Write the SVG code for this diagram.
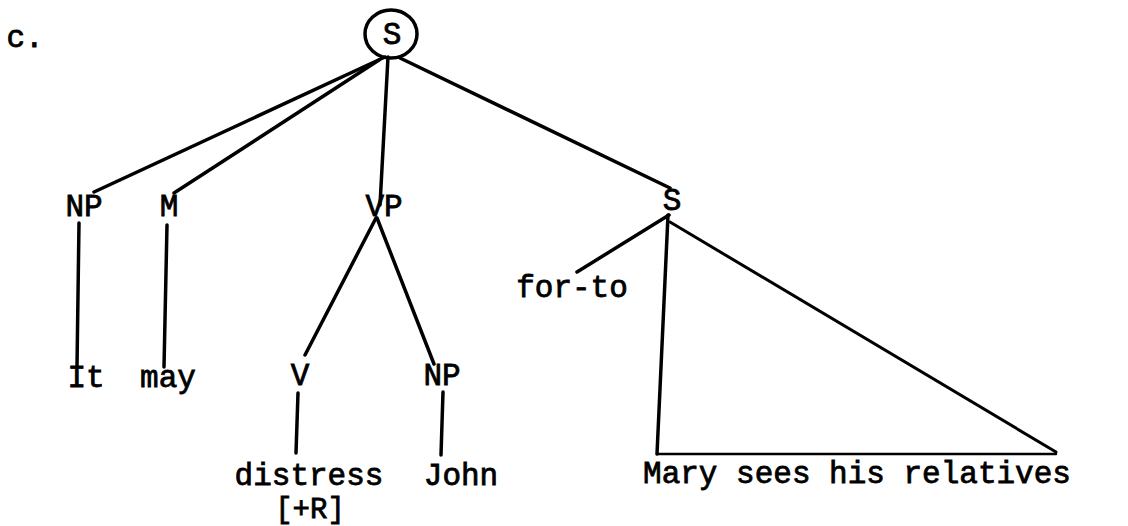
<svg xmlns="http://www.w3.org/2000/svg" width="1128" height="526" viewBox="0 0 1128 526">
<style>
text{font-family:"Liberation Mono","Courier New",monospace;font-size:31px;fill:#000;stroke:#000;stroke-width:0.8;text-anchor:middle}
.e line{stroke:#000;stroke-width:3.5;stroke-linecap:round;fill:none}
</style>
<rect width="1128" height="526" fill="#fff"/>
<g id="label"><text x="25" y="47">c.</text></g>
<g class="e" id="connectors">
<line x1="385" y1="57" x2="94" y2="192"/>
<line x1="379" y1="60" x2="174" y2="193"/>
<line x1="388" y1="57" x2="380" y2="205"/>
<line x1="400" y1="58" x2="670" y2="188"/>
<line x1="79" y1="223" x2="77" y2="367"/>
<line x1="167" y1="225" x2="164" y2="367"/>
<line x1="376" y1="218" x2="305" y2="355"/>
<line x1="377" y1="218" x2="434" y2="364"/>
<line x1="298" y1="393" x2="296" y2="453"/>
<line x1="443" y1="392" x2="441" y2="455"/>
<line x1="669" y1="215" x2="577" y2="272"/>
<line x1="668" y1="215" x2="657" y2="454"/>
<line x1="670" y1="222" x2="1056" y2="452" style="stroke-width:3"/>
<line x1="657" y1="454" x2="1056" y2="454" style="stroke-width:2.5"/>
</g>
<g id="S"><ellipse cx="391" cy="34" rx="26" ry="24" fill="none" stroke="#000" stroke-width="3.5"/><text x="392" y="44">S</text></g>
<g id="NP1"><text x="84" y="216">NP</text></g>
<g id="M"><text x="169" y="216">M</text></g>
<g id="VP"><text x="384" y="216">VP</text></g>
<g id="S2"><text x="672" y="210">S</text></g>
<g id="It"><text x="86" y="387">It</text></g>
<g id="may"><text x="168" y="387">may</text></g>
<g id="V"><text x="300" y="385">V</text></g>
<g id="NP2"><text x="442" y="385">NP</text></g>
<g id="forto"><text x="572" y="297">for-to</text></g>
<g id="distress"><text x="309" y="485">distress</text><text x="310" y="518" style="font-size:29px">[+R]</text></g>
<g id="John"><text x="461" y="485">John</text></g>
<g id="Mary"><text x="857" y="483">Mary sees his relatives</text></g>
</svg>
